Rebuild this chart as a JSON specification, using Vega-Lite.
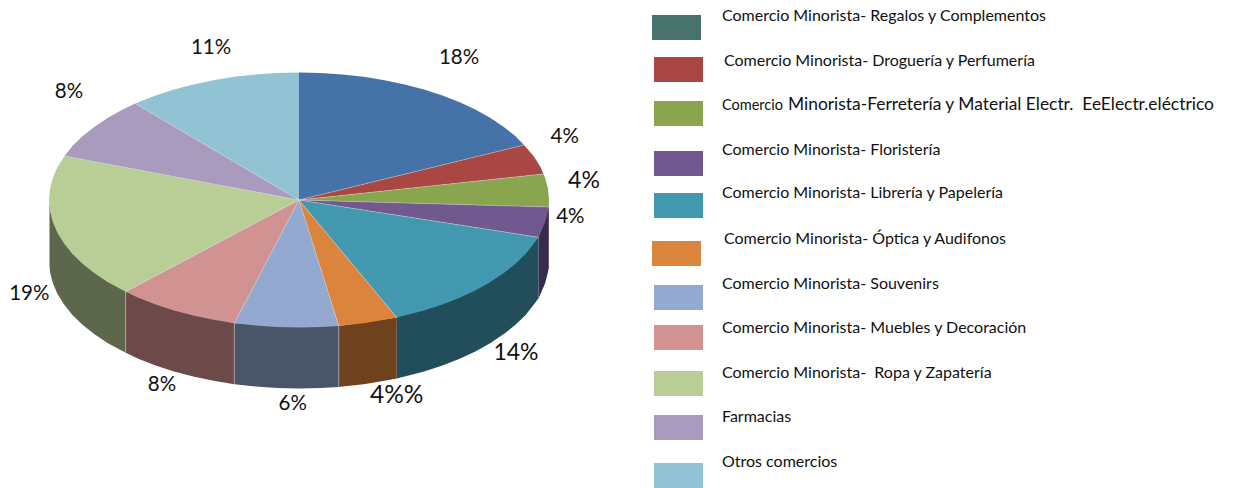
{
"$schema":"https://vega.github.io/schema/vega-lite/v6.json",
"width":1234,"height":488,"padding":0,
"autosize":{"type":"none"},
"background":"white",
"config":{"view":{"stroke":null},"text":{"font":"Lato","color":"#111111"}},
"datasets":{
"walls":[
{"s":"Floristería","i":0,"x":548.8,"y":207},{"s":"Floristería","i":1,"x":548.8,"y":268},{"s":"Floristería","i":2,"x":548,"y":272.1},{"s":"Floristería","i":3,"x":545.2,"y":283.1},{"s":"Floristería","i":4,"x":540.5,"y":294},{"s":"Floristería","i":5,"x":538.5,"y":298.3},{"s":"Floristería","i":6,"x":538.5,"y":237.3},
{"s":"Librería","i":0,"x":538.5,"y":237.3},{"s":"Librería","i":1,"x":538.5,"y":298.3},{"s":"Librería","i":2,"x":533.9,"y":304.6},{"s":"Librería","i":3,"x":525.6,"y":314.9},{"s":"Librería","i":4,"x":515.5,"y":324.8},{"s":"Librería","i":5,"x":503.8,"y":334.1},{"s":"Librería","i":6,"x":490.5,"y":343},{"s":"Librería","i":7,"x":475.8,"y":351.2},{"s":"Librería","i":8,"x":459.7,"y":358.7},{"s":"Librería","i":9,"x":442.4,"y":365.4},{"s":"Librería","i":10,"x":424,"y":371.4},{"s":"Librería","i":11,"x":404.7,"y":376.6},{"s":"Librería","i":12,"x":396.8,"y":378.4},{"s":"Librería","i":13,"x":396.8,"y":317.4},
{"s":"Óptica","i":0,"x":396.8,"y":317.4},{"s":"Óptica","i":1,"x":396.8,"y":378.4},{"s":"Óptica","i":2,"x":384.5,"y":380.8},{"s":"Óptica","i":3,"x":363.7,"y":384.2},{"s":"Óptica","i":4,"x":342.4,"y":386.6},{"s":"Óptica","i":5,"x":338.8,"y":387},{"s":"Óptica","i":6,"x":338.8,"y":326},
{"s":"Souvenirs","i":0,"x":338.8,"y":326},{"s":"Souvenirs","i":1,"x":338.8,"y":387},{"s":"Souvenirs","i":2,"x":320.8,"y":388},{"s":"Souvenirs","i":3,"x":299,"y":388.5},{"s":"Souvenirs","i":4,"x":277.2,"y":388},{"s":"Souvenirs","i":5,"x":255.6,"y":386.6},{"s":"Souvenirs","i":6,"x":234.3,"y":384.2},{"s":"Souvenirs","i":7,"x":234.3,"y":323.2},
{"s":"Muebles","i":0,"x":234.3,"y":323.2},{"s":"Muebles","i":1,"x":234.3,"y":384.2},{"s":"Muebles","i":2,"x":213.5,"y":380.8},{"s":"Muebles","i":3,"x":193.3,"y":376.6},{"s":"Muebles","i":4,"x":174,"y":371.4},{"s":"Muebles","i":5,"x":155.6,"y":365.4},{"s":"Muebles","i":6,"x":138.3,"y":358.7},{"s":"Muebles","i":7,"x":125.7,"y":352.8},{"s":"Muebles","i":8,"x":125.7,"y":291.8},
{"s":"Ropa","i":0,"x":125.7,"y":291.8},{"s":"Ropa","i":1,"x":125.7,"y":352.8},{"s":"Ropa","i":2,"x":107.5,"y":343},{"s":"Ropa","i":3,"x":94.2,"y":334.1},{"s":"Ropa","i":4,"x":82.5,"y":324.8},{"s":"Ropa","i":5,"x":72.4,"y":314.9},{"s":"Ropa","i":6,"x":64.1,"y":304.6},{"s":"Ropa","i":7,"x":57.5,"y":294},{"s":"Ropa","i":8,"x":52.8,"y":283.1},{"s":"Ropa","i":9,"x":50,"y":272.1},{"s":"Ropa","i":10,"x":49.5,"y":266},{"s":"Ropa","i":11,"x":49.5,"y":205}
],
"tops":[
{"s":"Regalos","i":0,"x":299,"y":200},{"s":"Regalos","i":1,"x":299,"y":72.5},{"s":"Regalos","i":2,"x":320.8,"y":73},{"s":"Regalos","i":3,"x":342.4,"y":74.4},{"s":"Regalos","i":4,"x":363.7,"y":76.8},{"s":"Regalos","i":5,"x":384.5,"y":80.2},{"s":"Regalos","i":6,"x":404.7,"y":84.4},{"s":"Regalos","i":7,"x":424,"y":89.6},{"s":"Regalos","i":8,"x":442.4,"y":95.6},{"s":"Regalos","i":9,"x":459.7,"y":102.3},{"s":"Regalos","i":10,"x":475.8,"y":109.8},{"s":"Regalos","i":11,"x":490.5,"y":118},{"s":"Regalos","i":12,"x":503.8,"y":126.9},{"s":"Regalos","i":13,"x":515.5,"y":136.2},{"s":"Regalos","i":14,"x":524,"y":145},
{"s":"Droguería","i":0,"x":299,"y":200},{"s":"Droguería","i":1,"x":524,"y":145},{"s":"Droguería","i":2,"x":533.9,"y":156.4},{"s":"Droguería","i":3,"x":540.5,"y":167},{"s":"Droguería","i":4,"x":543.4,"y":174},
{"s":"Ferretería","i":0,"x":299,"y":200},{"s":"Ferretería","i":1,"x":543.4,"y":174},{"s":"Ferretería","i":2,"x":545.2,"y":177.9},{"s":"Ferretería","i":3,"x":548,"y":188.9},{"s":"Ferretería","i":4,"x":549,"y":200},{"s":"Ferretería","i":5,"x":548.8,"y":207},
{"s":"Floristería","i":0,"x":299,"y":200},{"s":"Floristería","i":1,"x":548.8,"y":207},{"s":"Floristería","i":2,"x":548,"y":211.1},{"s":"Floristería","i":3,"x":545.2,"y":222.1},{"s":"Floristería","i":4,"x":540.5,"y":233},{"s":"Floristería","i":5,"x":538.5,"y":237.3},
{"s":"Librería","i":0,"x":299,"y":200},{"s":"Librería","i":1,"x":538.5,"y":237.3},{"s":"Librería","i":2,"x":533.9,"y":243.6},{"s":"Librería","i":3,"x":525.6,"y":253.9},{"s":"Librería","i":4,"x":515.5,"y":263.8},{"s":"Librería","i":5,"x":503.8,"y":273.1},{"s":"Librería","i":6,"x":490.5,"y":282},{"s":"Librería","i":7,"x":475.8,"y":290.2},{"s":"Librería","i":8,"x":459.7,"y":297.7},{"s":"Librería","i":9,"x":442.4,"y":304.4},{"s":"Librería","i":10,"x":424,"y":310.4},{"s":"Librería","i":11,"x":404.7,"y":315.6},{"s":"Librería","i":12,"x":396.8,"y":317.4},
{"s":"Óptica","i":0,"x":299,"y":200},{"s":"Óptica","i":1,"x":396.8,"y":317.4},{"s":"Óptica","i":2,"x":384.5,"y":319.8},{"s":"Óptica","i":3,"x":363.7,"y":323.2},{"s":"Óptica","i":4,"x":342.4,"y":325.6},{"s":"Óptica","i":5,"x":338.8,"y":326},
{"s":"Souvenirs","i":0,"x":299,"y":200},{"s":"Souvenirs","i":1,"x":338.8,"y":326},{"s":"Souvenirs","i":2,"x":320.8,"y":327},{"s":"Souvenirs","i":3,"x":299,"y":327.5},{"s":"Souvenirs","i":4,"x":277.2,"y":327},{"s":"Souvenirs","i":5,"x":255.6,"y":325.6},{"s":"Souvenirs","i":6,"x":234.3,"y":323.2},
{"s":"Muebles","i":0,"x":299,"y":200},{"s":"Muebles","i":1,"x":234.3,"y":323.2},{"s":"Muebles","i":2,"x":213.5,"y":319.8},{"s":"Muebles","i":3,"x":193.3,"y":315.6},{"s":"Muebles","i":4,"x":174,"y":310.4},{"s":"Muebles","i":5,"x":155.6,"y":304.4},{"s":"Muebles","i":6,"x":138.3,"y":297.7},{"s":"Muebles","i":7,"x":125.7,"y":291.8},
{"s":"Ropa","i":0,"x":299,"y":200},{"s":"Ropa","i":1,"x":125.7,"y":291.8},{"s":"Ropa","i":2,"x":107.5,"y":282},{"s":"Ropa","i":3,"x":94.2,"y":273.1},{"s":"Ropa","i":4,"x":82.5,"y":263.8},{"s":"Ropa","i":5,"x":72.4,"y":253.9},{"s":"Ropa","i":6,"x":64.1,"y":243.6},{"s":"Ropa","i":7,"x":57.5,"y":233},{"s":"Ropa","i":8,"x":52.8,"y":222.1},{"s":"Ropa","i":9,"x":50,"y":211.1},{"s":"Ropa","i":10,"x":49,"y":200},{"s":"Ropa","i":11,"x":50,"y":188.9},{"s":"Ropa","i":12,"x":52.8,"y":177.9},{"s":"Ropa","i":13,"x":57.5,"y":167},{"s":"Ropa","i":14,"x":64.5,"y":156},
{"s":"Farmacias","i":0,"x":299,"y":200},{"s":"Farmacias","i":1,"x":64.5,"y":156},{"s":"Farmacias","i":2,"x":72.4,"y":146.1},{"s":"Farmacias","i":3,"x":82.5,"y":136.2},{"s":"Farmacias","i":4,"x":94.2,"y":126.9},{"s":"Farmacias","i":5,"x":107.5,"y":118},{"s":"Farmacias","i":6,"x":122.2,"y":109.8},{"s":"Farmacias","i":7,"x":135.3,"y":103.6},
{"s":"Otros","i":0,"x":299,"y":200},{"s":"Otros","i":1,"x":135.3,"y":103.6},{"s":"Otros","i":2,"x":155.6,"y":95.6},{"s":"Otros","i":3,"x":174,"y":89.6},{"s":"Otros","i":4,"x":193.3,"y":84.4},{"s":"Otros","i":5,"x":213.5,"y":80.2},{"s":"Otros","i":6,"x":234.3,"y":76.8},{"s":"Otros","i":7,"x":255.6,"y":74.4},{"s":"Otros","i":8,"x":277.2,"y":73},{"s":"Otros","i":9,"x":299,"y":72.5}
],
"edges":[
{"x":299,"y":200,"x2":524,"y2":145},{"x":299,"y":200,"x2":543.4,"y2":174},{"x":299,"y":200,"x2":548.8,"y2":207},{"x":299,"y":200,"x2":538.5,"y2":237.3},{"x":299,"y":200,"x2":396.8,"y2":317.4},{"x":299,"y":200,"x2":338.8,"y2":326},{"x":299,"y":200,"x2":234.3,"y2":323.2},{"x":299,"y":200,"x2":125.7,"y2":291.8},{"x":299,"y":200,"x2":64.5,"y2":156},{"x":299,"y":200,"x2":135.3,"y2":103.6},
{"x":338.8,"y":326,"x2":338.8,"y2":387},{"x":234.3,"y":323.2,"x2":234.3,"y2":384.2},{"x":125.7,"y":291.8,"x2":125.7,"y2":352.8}
],
"legend":[
{"s":"Regalos","label":"Comercio Minorista- Regalos y Complementos","x":652,"x2":701,"y":15,"y2":40,"tx":722,"ty":15.7},
{"s":"Droguería","label":"Comercio Minorista- Droguería y Perfumería","x":654,"x2":703,"y":57,"y2":82,"tx":724,"ty":60.7},
{"s":"Ferretería","x":654,"x2":703,"y":101,"y2":126},
{"s":"Floristería","label":"Comercio Minorista- Floristería","x":654,"x2":703,"y":151,"y2":176,"tx":722,"ty":150},
{"s":"Librería","label":"Comercio Minorista- Librería y Papelería","x":654,"x2":703,"y":193,"y2":218,"tx":722,"ty":193.3},
{"s":"Óptica","label":"Comercio Minorista- Óptica y Audifonos","x":652,"x2":701,"y":241,"y2":266,"tx":724,"ty":239.3},
{"s":"Souvenirs","label":"Comercio Minorista- Souvenirs","x":654,"x2":703,"y":285,"y2":310,"tx":722,"ty":284.3},
{"s":"Muebles","label":"Comercio Minorista- Muebles y Decoración","x":654,"x2":703,"y":325,"y2":350,"tx":722,"ty":328.3},
{"s":"Ropa","label":"Comercio Minorista-\u00a0 Ropa y Zapatería","x":654,"x2":703,"y":371,"y2":396,"tx":722,"ty":373.3},
{"s":"Farmacias","label":"Farmacias","x":654,"x2":703,"y":415,"y2":440,"tx":722,"ty":417.3},
{"s":"Otros","label":"Otros comercios","x":654,"x2":703,"y":463,"y2":488,"tx":722,"ty":462.3}
]
},
"layer":[
{"data":{"name":"walls"},"mark":{"type":"line","strokeWidth":0,"interpolate":"linear"},
 "encoding":{"x":{"field":"x","type":"quantitative","scale":{"domain":[0,1234],"nice":false,"zero":false},"axis":null},"y":{"field":"y","type":"quantitative","scale":{"domain":[488,0],"nice":false,"zero":false},"axis":null},"order":{"field":"i"},
 "fill":{"field":"s","type":"nominal","legend":null,"scale":{"domain":["Floristería","Librería","Óptica","Souvenirs","Muebles","Ropa"],"range":["#3A2B4D","#224E5B","#6E421E","#4A5568","#6C4A49","#5D674C"]}}}},
{"data":{"name":"tops"},"mark":{"type":"line","strokeWidth":0,"interpolate":"linear"},
 "encoding":{"x":{"field":"x","type":"quantitative","axis":null},"y":{"field":"y","type":"quantitative","axis":null},"order":{"field":"i"},
 "fill":{"field":"s","type":"nominal","legend":null,"scale":{"domain":["Regalos","Droguería","Ferretería","Floristería","Librería","Óptica","Souvenirs","Muebles","Ropa","Farmacias","Otros"],"range":["#4572A7","#AA4643","#89A54E","#71588F","#4198AF","#DB843D","#93A9CF","#D19392","#B9CD96","#A99BBD","#92C3D5"]}}}},
{"data":{"name":"edges"},"mark":{"type":"rule","stroke":"#d9d9d9","strokeWidth":0.6,"opacity":0.7},
 "encoding":{"x":{"field":"x","type":"quantitative","axis":null},"y":{"field":"y","type":"quantitative","axis":null},"x2":{"field":"x2"},"y2":{"field":"y2"}}},
{"data":{"name":"legend"},"mark":{"type":"rect"},
 "encoding":{"x":{"field":"x","type":"quantitative","axis":null},"x2":{"field":"x2"},"y":{"field":"y","type":"quantitative","axis":null},"y2":{"field":"y2"},
 "fill":{"field":"s","type":"nominal","legend":null,"scale":{"domain":["Regalos","Droguería","Ferretería","Floristería","Librería","Óptica","Souvenirs","Muebles","Ropa","Farmacias","Otros"],"range":["#47736C","#AA4643","#89A54E","#71588F","#4198AF","#DB843D","#93A9CF","#D19392","#B9CD96","#A99BBD","#92C3D5"]}}}},
{"data":{"name":"legend"},"transform":[{"filter":"datum.label"}],"mark":{"type":"text","align":"left","baseline":"middle","fontSize":16},
 "encoding":{"x":{"field":"tx","type":"quantitative","axis":null},"y":{"field":"ty","type":"quantitative","axis":null},"text":{"field":"label"}}},
{"data":{"values":[{"label":"Comercio","tx":722,"ty":106}]},"mark":{"type":"text","align":"left","baseline":"middle","fontSize":14.5},
 "encoding":{"x":{"field":"tx","type":"quantitative","axis":null},"y":{"field":"ty","type":"quantitative","axis":null},"text":{"field":"label"}}},
{"data":{"values":[{"label":"Minorista-Ferretería y Material Electr.\u00a0 EeElectr.eléctrico","tx":788,"ty":105}]},"mark":{"type":"text","align":"left","baseline":"middle","fontSize":17.4},
 "encoding":{"x":{"field":"tx","type":"quantitative","axis":null},"y":{"field":"ty","type":"quantitative","axis":null},"text":{"field":"label"}}},
{"data":{"values":[{"label":"18%","tx":459,"ty":58},{"label":"4%","tx":564.7,"ty":137.3},{"label":"4%","tx":570.3,"ty":216.7},{"label":"6%","tx":292.7,"ty":404.3},{"label":"8%","tx":162,"ty":385.3},{"label":"19%","tx":29.3,"ty":293.7},{"label":"8%","tx":69,"ty":91.7},{"label":"11%","tx":211,"ty":47.7}]},"mark":{"type":"text","align":"center","baseline":"middle","fontSize":20.5},
 "encoding":{"x":{"field":"tx","type":"quantitative","axis":null},"y":{"field":"ty","type":"quantitative","axis":null},"text":{"field":"label"}}},
{"data":{"values":[{"label":"4%","tx":584,"ty":180.7},{"label":"14%","tx":516,"ty":353.3}]},"mark":{"type":"text","align":"center","baseline":"middle","fontSize":23},
 "encoding":{"x":{"field":"tx","type":"quantitative","axis":null},"y":{"field":"ty","type":"quantitative","axis":null},"text":{"field":"label"}}},
{"data":{"values":[{"label":"4%%","tx":396.7,"ty":395.7}]},"mark":{"type":"text","align":"center","baseline":"middle","fontSize":24.5},
 "encoding":{"x":{"field":"tx","type":"quantitative","axis":null},"y":{"field":"ty","type":"quantitative","axis":null},"text":{"field":"label"}}}
],
"resolve":{"scale":{"fill":"independent"}}
}
